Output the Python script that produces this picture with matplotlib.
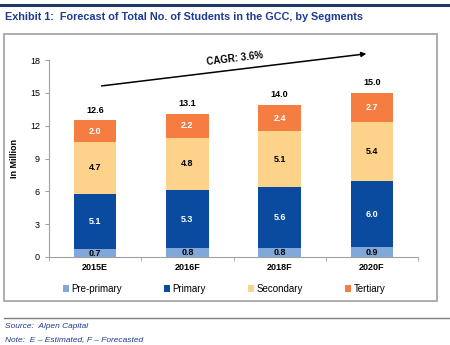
import numpy as np
import matplotlib
matplotlib.use("Agg")
import matplotlib.pyplot as plt
from matplotlib.patches import Rectangle
from matplotlib.lines import Line2D

plt.rcParams['font.family'] = ['Liberation Sans', 'DejaVu Sans']

## data
years = ["2015E", "2016F", "2018F", "2020F"]
segments = ["Pre-primary", "Primary", "Secondary", "Tertiary"]
pre_primary = [0.7, 0.8, 0.8, 0.9]
primary = [5.1, 5.3, 5.6, 6.0]
secondary = [4.7, 4.8, 5.1, 5.4]
tertiary = [2.0, 2.2, 2.4, 2.7]
totals = [12.6, 13.1, 14.0, 15.0]
yticks = [0, 3, 6, 9, 12, 15, 18]

colors = ["#80A8D8", "#0A4A9F", "#FDD28A", "#F57D42"]
label_colors = ["black", "white", "black", "white"]

W, H = 450, 345
fig = plt.figure(figsize=(W / 100, H / 100), dpi=100)

def fx(px):
    return px / W

def fy(py):
    return 1 - py / H

# header / footer lines and box
fig.add_artist(Line2D([0, 1], [fy(5), fy(5)], color="#1F3864", lw=2.2))
fig.add_artist(Line2D([fx(4), 1], [fy(318), fy(318)], color="#7F7F7F", lw=1))
fig.add_artist(Rectangle((fx(4), fy(301)), fx(433), 267 / H, fill=False,
                         edgecolor="#A6A6A6", lw=1.3))

fig.text(fx(5), fy(17), "Exhibit 1:  Forecast of Total No. of Students in the GCC, by Segments",
         color="#1F3A93", fontsize=7.8, fontweight="bold", va="center", ha="left")
fig.text(fx(5), fy(327), "Source:  Alpen Capital", color="#1F3A93", fontsize=6,
         style="italic", va="center")
fig.text(fx(5), fy(340), "Note:  E \u2013 Estimated, F \u2013 Forecasted", color="#1F3A93",
         fontsize=6, style="italic", va="center")

ax = fig.add_axes([fx(49), fy(257), fx(369), (257 - 60) / H])

x = np.arange(len(years))
series = [pre_primary, primary, secondary, tertiary]
bottom = np.zeros(len(years))
bars = []
for vals, c, lc, name in zip(series, colors, label_colors, segments):
    b = ax.bar(x, vals, 0.46, bottom=bottom, color=c, label=name)
    for xi, v, bt in zip(x, vals, bottom):
        ax.text(xi, bt + v / 2, "%.1f" % v, ha="center", va="center",
                fontsize=6.5, fontweight="bold", color=lc)
    bottom = bottom + np.array(vals)
    bars.append(b)

for xi, t, bt in zip(x, totals, bottom):
    ax.text(xi, bt + 0.5, "%.1f" % t, ha="center", va="bottom",
            fontsize=6.5, fontweight="bold")

ax.set_xlim(-0.5, len(years) - 0.5)
ax.set_ylim(0, 18)
ax.set_yticks(yticks)
ax.set_xticks(x)
ax.set_xticklabels(years, fontweight="bold")
ax.set_xticks(np.arange(-0.5, len(years)), minor=True)
ax.tick_params(axis="x", which="major", length=0, labelsize=6.5, pad=4)
ax.tick_params(axis="x", which="minor", length=3, color="#A0A0A0")
ax.tick_params(axis="y", labelsize=6.5, length=3, color="#A0A0A0")
ax.set_ylabel("In Million", fontsize=6.5, fontweight="bold", labelpad=8)
for s in ["top", "right"]:
    ax.spines[s].set_visible(False)
for s in ["left", "bottom"]:
    ax.spines[s].set_color("#A0A0A0")

# CAGR arrow
ax.annotate("", xy=(2.97, 18.6), xytext=(0.04, 15.6), annotation_clip=False,
            arrowprops=dict(arrowstyle="-|>", color="black", lw=1.1, mutation_scale=7))
ax.text(1.52, 17.35, "CAGR: 3.6%", rotation=7, fontsize=7, fontweight="bold",
        ha="center", va="bottom")

fig.legend(handles=bars, labels=segments, loc="center", ncol=4,
           bbox_to_anchor=(fx(224), fy(289)), frameon=False, fontsize=7,
           handlelength=0.6, handleheight=0.6, columnspacing=4.3, handletextpad=0.3)

fig.savefig("out.png", dpi=100)
